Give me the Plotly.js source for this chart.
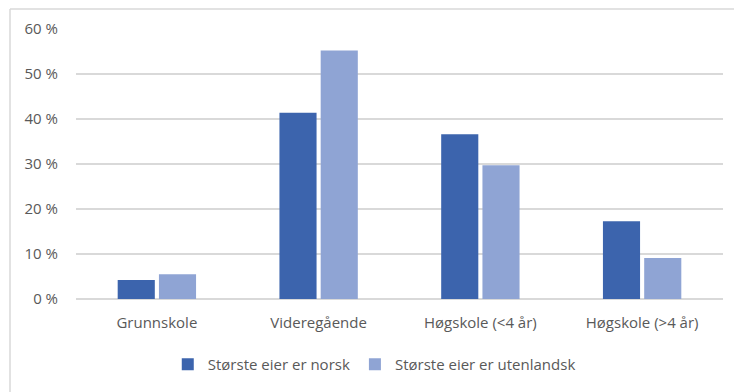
<!DOCTYPE html>
<html>
<head>
<meta charset="utf-8">
<script src="https://cdn.plot.ly/plotly-3.0.1.min.js"></script>
<style>
  html, body { margin: 0; padding: 0; background: #ffffff; }
  #chart { width: 734px; height: 392px; }
</style>
</head>
<body>
<div id="chart"></div>
<script>
// Utdanningsnivå etter hvem som er største eier (andel i prosent)
const categories = ['Grunnskole', 'Videregående', 'Høgskole (<4 år)', 'Høgskole (>4 år)'];
const norsk = [4.2, 41.4, 36.6, 17.3];
const utenlandsk = [5.5, 55.2, 29.7, 9.1];
const seriesNames = ['Største eier er norsk', 'Største eier er utenlandsk'];
const yTicks = [0, 10, 20, 30, 40, 50, 60];

const textColor = '#595959';
const gridColor = '#d9d9d9';
const fontFamily = '"Open Sans", "Liberation Sans", sans-serif';
const fontSize = 15;

const traces = [
  {
    type: 'bar',
    name: seriesNames[0],
    x: categories,
    y: norsk,
    marker: { color: '#3c64ad' },
    hoverinfo: 'skip'
  },
  {
    type: 'bar',
    name: seriesNames[1],
    x: categories,
    y: utenlandsk,
    marker: { color: '#8fa4d4' },
    hoverinfo: 'skip'
  }
];

const layout = {
  width: 734,
  height: 392,
  margin: { l: 76, r: 11, t: 29, b: 91 },
  paper_bgcolor: '#ffffff',
  plot_bgcolor: '#ffffff',
  font: { family: fontFamily, size: fontSize, color: textColor },
  barmode: 'group',
  bargap: 0.49,
  bargroupgap: 0.1,
  showlegend: true,
  legend: {
    orientation: 'h',
    x: 0.461,
    xanchor: 'center',
    y: -0.243,
    yanchor: 'middle',
    font: { family: fontFamily, size: fontSize, color: textColor },
    itemclick: false,
    itemwidth: 30,
    traceorder: 'normal'
  },
  xaxis: {
    type: 'category',
    showgrid: false,
    showline: false,
    zeroline: false,
    ticks: '',
    tickfont: { family: fontFamily, size: fontSize, color: textColor },
    ticklabelstandoff: 13
  },
  yaxis: {
    range: [0, 60],
    tickvals: yTicks,
    ticktext: yTicks.map(v => v + ' %'),
    showgrid: true,
    gridcolor: gridColor,
    gridwidth: 1.3,
    zeroline: true,
    zerolinecolor: gridColor,
    zerolinewidth: 1.3,
    showline: false,
    ticks: '',
    tickfont: { family: fontFamily, size: fontSize, color: textColor },
    ticklabelstandoff: 17
  },
  shapes: [
    // chart frame: top and left edges
    {
      type: 'line', xref: 'paper', yref: 'paper',
      x0: -0.102, x1: 1.1, y0: 1.074, y1: 1.074,
      line: { color: gridColor, width: 1.5 }
    },
    {
      type: 'line', xref: 'paper', yref: 'paper',
      x0: -0.102, x1: -0.102, y0: 1.074, y1: -0.4,
      line: { color: gridColor, width: 1.5 }
    }
  ]
};

Plotly.newPlot('chart', traces, layout, { staticPlot: true, displayModeBar: false });
</script>
</body>
</html>
